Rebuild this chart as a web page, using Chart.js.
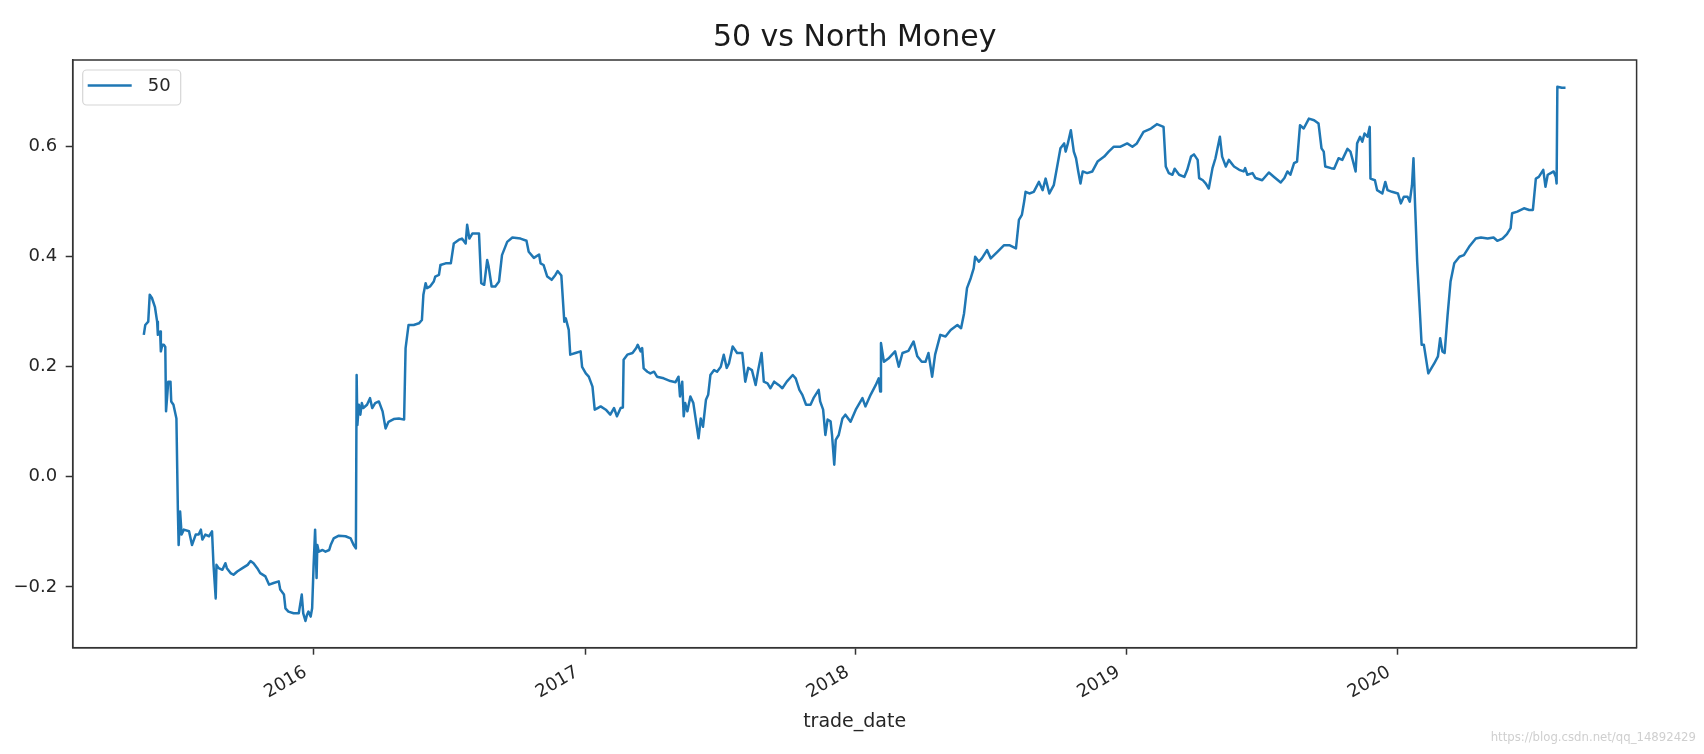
<!DOCTYPE html>
<html>
<head>
<meta charset="utf-8">
<script src="https://cdn.jsdelivr.net/npm/chart.js@4.4.1/dist/chart.umd.min.js"></script>
<style>
  html, body { margin: 0; padding: 0; background: #fff; }
  #wrap { width: 1704px; height: 754px; }
</style>
</head>
<body>
<div id="wrap"><canvas id="chart" width="1704" height="754"></canvas></div>
<script>
const chartTitle = "50 vs North Money";
const seriesLabel = "50";
const xLabel = "trade_date";
const watermark = "https://blog.csdn.net/qq_14892429";

// trade dates
const dates = [
  // 2015
  "2015-05-17","2015-05-19","2015-05-23","2015-05-25","2015-05-28","2015-06-01","2015-06-04","2015-06-05",
  "2015-06-08","2015-06-09","2015-06-11","2015-06-13","2015-06-15","2015-06-16","2015-06-19","2015-06-22",
  "2015-06-23","2015-06-26","2015-06-30","2015-07-02","2015-07-03","2015-07-05","2015-07-07","2015-07-10",
  "2015-07-17","2015-07-21","2015-07-26","2015-07-30","2015-08-02","2015-08-04","2015-08-08","2015-08-13",
  "2015-08-17","2015-08-19","2015-08-22","2015-08-23","2015-08-26","2015-08-31","2015-09-04","2015-09-06",
  "2015-09-11","2015-09-15","2015-09-20","2015-09-27","2015-10-04","2015-10-08","2015-10-12","2015-10-17",
  "2015-10-21","2015-10-28","2015-11-02","2015-11-08","2015-11-15","2015-11-17","2015-11-22","2015-11-24",
  "2015-11-28","2015-12-05","2015-12-12","2015-12-16","2015-12-18","2015-12-21","2015-12-23","2015-12-25",
  "2015-12-28","2015-12-30",
  // 2016
  "2016-01-01","2016-01-03","2016-01-05","2016-01-06","2016-01-08","2016-01-13","2016-01-17","2016-01-22",
  "2016-01-24","2016-01-28","2016-02-04","2016-02-13","2016-02-20","2016-02-24","2016-02-27","2016-02-28",
  "2016-02-29","2016-03-02","2016-03-04","2016-03-06","2016-03-08","2016-03-13","2016-03-17","2016-03-20",
  "2016-03-24","2016-03-29","2016-04-03","2016-04-07","2016-04-11","2016-04-18","2016-04-25","2016-05-02",
  "2016-05-04","2016-05-08","2016-05-15","2016-05-22","2016-05-26","2016-05-28","2016-05-31","2016-06-02",
  "2016-06-06","2016-06-11","2016-06-13","2016-06-18","2016-06-20","2016-06-27","2016-07-04","2016-07-08",
  "2016-07-15","2016-07-19","2016-07-24","2016-07-26","2016-07-29","2016-08-02","2016-08-11","2016-08-14",
  "2016-08-18","2016-08-22","2016-08-24","2016-08-28","2016-09-02","2016-09-07","2016-09-11","2016-09-18",
  "2016-09-25","2016-10-06","2016-10-14","2016-10-17","2016-10-24","2016-10-31","2016-11-02","2016-11-06",
  "2016-11-11","2016-11-17","2016-11-22","2016-11-25","2016-11-30","2016-12-04","2016-12-06","2016-12-10",
  "2016-12-12","2016-12-19","2016-12-26","2016-12-28",
  // 2017
  "2017-01-02","2017-01-06","2017-01-11","2017-01-14","2017-01-18","2017-01-22","2017-01-29","2017-02-04",
  "2017-02-09","2017-02-13","2017-02-18","2017-02-21","2017-02-22","2017-02-27","2017-03-06","2017-03-11",
  "2017-03-13","2017-03-17","2017-03-19","2017-03-21","2017-03-26","2017-03-30","2017-04-04","2017-04-08",
  "2017-04-17","2017-04-26","2017-05-03","2017-05-07","2017-05-09","2017-05-12","2017-05-14","2017-05-16",
  "2017-05-19","2017-05-23","2017-05-27","2017-06-03","2017-06-06","2017-06-09","2017-06-13","2017-06-16",
  "2017-06-19","2017-06-24","2017-06-28","2017-07-03","2017-07-07","2017-07-11","2017-07-14","2017-07-19",
  "2017-07-25","2017-08-01","2017-08-05","2017-08-09","2017-08-14","2017-08-19","2017-08-23","2017-08-27",
  "2017-08-30","2017-09-04","2017-09-08","2017-09-13","2017-09-19","2017-09-24","2017-09-30","2017-10-08",
  "2017-10-12","2017-10-17","2017-10-21","2017-10-26","2017-11-01","2017-11-05","2017-11-12","2017-11-14",
  "2017-11-18","2017-11-21","2017-11-24","2017-11-28","2017-11-30","2017-12-03","2017-12-05","2017-12-09",
  "2017-12-14","2017-12-18","2017-12-25",
  // 2018
  "2018-01-01","2018-01-10","2018-01-14","2018-01-21","2018-01-28","2018-02-01","2018-02-03","2018-02-04",
  "2018-02-08","2018-02-14","2018-02-23","2018-02-28","2018-03-05","2018-03-13","2018-03-20","2018-03-25",
  "2018-03-31","2018-04-05","2018-04-09","2018-04-14","2018-04-18","2018-04-25","2018-05-02","2018-05-09",
  "2018-05-18","2018-05-23","2018-05-27","2018-05-31","2018-06-05","2018-06-09","2018-06-11","2018-06-16",
  "2018-06-20","2018-06-27","2018-07-02","2018-07-11","2018-07-20","2018-07-27","2018-08-05","2018-08-09",
  "2018-08-13","2018-08-16","2018-08-18","2018-08-23","2018-08-29","2018-09-05","2018-09-10","2018-09-14",
  "2018-09-19","2018-09-25","2018-09-30","2018-10-04","2018-10-09","2018-10-11","2018-10-14","2018-10-18",
  "2018-10-22","2018-10-25","2018-10-28","2018-10-31","2018-11-03","2018-11-09","2018-11-16","2018-11-23",
  "2018-12-02","2018-12-08","2018-12-15","2018-12-24",
  // 2019
  "2019-01-02","2019-01-09","2019-01-15","2019-01-24","2019-02-03","2019-02-11","2019-02-20","2019-02-23",
  "2019-02-27","2019-03-04","2019-03-07","2019-03-13","2019-03-20","2019-03-24","2019-03-29","2019-04-02",
  "2019-04-07","2019-04-09","2019-04-14","2019-04-18","2019-04-22","2019-04-27","2019-05-01","2019-05-07",
  "2019-05-10","2019-05-15","2019-05-19","2019-05-26","2019-06-02","2019-06-08","2019-06-10","2019-06-13",
  "2019-06-20","2019-06-24","2019-07-03","2019-07-12","2019-07-19","2019-07-28","2019-08-02","2019-08-06",
  "2019-08-10","2019-08-15","2019-08-19","2019-08-23","2019-08-28","2019-09-04","2019-09-11","2019-09-17",
  "2019-09-21","2019-09-24","2019-09-26","2019-10-04","2019-10-08","2019-10-14","2019-10-19","2019-10-26",
  "2019-10-30","2019-11-02","2019-11-06","2019-11-08","2019-11-12","2019-11-15","2019-11-18","2019-11-22",
  "2019-11-25","2019-11-26","2019-12-02","2019-12-05","2019-12-12","2019-12-16","2019-12-19","2019-12-25",
  // 2020
  "2020-01-02","2020-01-06","2020-01-10","2020-01-15","2020-01-18","2020-01-21","2020-01-23","2020-01-25",
  "2020-01-28","2020-02-03","2020-02-06","2020-02-12","2020-02-20","2020-02-25","2020-02-28","2020-03-02",
  "2020-03-05","2020-03-09","2020-03-13","2020-03-18","2020-03-25","2020-03-31","2020-04-07","2020-04-16",
  "2020-04-23","2020-05-02","2020-05-10","2020-05-15","2020-05-22","2020-05-28","2020-06-02","2020-06-04",
  "2020-06-11","2020-06-20","2020-06-27","2020-07-02","2020-07-06","2020-07-10","2020-07-16","2020-07-19",
  "2020-07-22","2020-07-26","2020-07-30","2020-08-02","2020-08-03","2020-08-04","2020-08-10","2020-08-15"
];

// series "50", same order as dates
const values = [
  // 2015
  0.258, 0.276, 0.282, 0.331, 0.325, 0.309, 0.282, 0.258,
  0.264, 0.228, 0.240, 0.240, 0.236, 0.119, 0.173, 0.173,
  0.137, 0.131, 0.106, -0.063, -0.124, -0.063, -0.105, -0.096,
  -0.099, -0.124, -0.105, -0.105, -0.096, -0.114, -0.105, -0.108,
  -0.099, -0.160, -0.221, -0.160, -0.166, -0.169, -0.157, -0.166,
  -0.175, -0.178, -0.172, -0.166, -0.160, -0.153, -0.157, -0.166,
  -0.175, -0.181, -0.196, -0.193, -0.190, -0.205, -0.214, -0.239,
  -0.245, -0.248, -0.248, -0.214, -0.248, -0.262, -0.251, -0.245,
  -0.254, -0.239,
  // 2016
  -0.160, -0.096, -0.184, -0.124, -0.136, -0.133, -0.136, -0.133,
  -0.124, -0.112, -0.107, -0.108, -0.112, -0.124, -0.130, 0.185,
  0.094, 0.131, 0.113, 0.134, 0.125, 0.131, 0.143, 0.125,
  0.134, 0.137, 0.119, 0.088, 0.100, 0.105, 0.106, 0.104,
  0.234, 0.276, 0.276, 0.279, 0.285, 0.331, 0.352, 0.343,
  0.346, 0.355, 0.364, 0.367, 0.385, 0.388, 0.388, 0.424,
  0.431, 0.433, 0.424, 0.458, 0.433, 0.442, 0.442, 0.352,
  0.349, 0.394, 0.382, 0.346, 0.346, 0.355, 0.403, 0.427,
  0.435, 0.433, 0.429, 0.409, 0.398, 0.404, 0.388, 0.385,
  0.364, 0.358, 0.367, 0.374, 0.366, 0.282, 0.288, 0.267,
  0.222, 0.225, 0.228, 0.200,
  // 2017
  0.188, 0.182, 0.164, 0.122, 0.125, 0.128, 0.122, 0.113,
  0.125, 0.110, 0.125, 0.126, 0.213, 0.222, 0.225, 0.234,
  0.240, 0.228, 0.234, 0.197, 0.191, 0.188, 0.191, 0.182,
  0.179, 0.174, 0.172, 0.182, 0.146, 0.173, 0.110, 0.134,
  0.119, 0.146, 0.134, 0.070, 0.106, 0.091, 0.140, 0.149,
  0.185, 0.194, 0.191, 0.200, 0.222, 0.198, 0.206, 0.237,
  0.225, 0.225, 0.173, 0.198, 0.194, 0.167, 0.198, 0.225,
  0.173, 0.170, 0.161, 0.173, 0.167, 0.161, 0.173, 0.185,
  0.179, 0.158, 0.149, 0.131, 0.131, 0.143, 0.158, 0.137,
  0.122, 0.076, 0.104, 0.101, 0.076, 0.022, 0.067, 0.076,
  0.106, 0.113, 0.100,
  // 2018
  0.122, 0.143, 0.128, 0.149, 0.167, 0.179, 0.155, 0.243,
  0.209, 0.215, 0.228, 0.200, 0.225, 0.229, 0.246, 0.219,
  0.209, 0.209, 0.225, 0.182, 0.222, 0.258, 0.255, 0.267,
  0.276, 0.270, 0.297, 0.343, 0.361, 0.379, 0.400, 0.391,
  0.397, 0.412, 0.397, 0.409, 0.421, 0.421, 0.415, 0.467,
  0.476, 0.500, 0.518, 0.515, 0.518, 0.536, 0.521, 0.542,
  0.515, 0.530, 0.567, 0.597, 0.606, 0.591, 0.606, 0.630,
  0.591, 0.579, 0.555, 0.533, 0.555, 0.552, 0.555, 0.573,
  0.582, 0.591, 0.600, 0.600,
  // 2019
  0.606, 0.600, 0.606, 0.627, 0.633, 0.641, 0.636, 0.564,
  0.552, 0.549, 0.560, 0.549, 0.545, 0.558, 0.582, 0.586,
  0.576, 0.543, 0.539, 0.533, 0.524, 0.561, 0.579, 0.618,
  0.582, 0.564, 0.576, 0.564, 0.558, 0.555, 0.561, 0.549,
  0.552, 0.543, 0.539, 0.553, 0.545, 0.535, 0.543, 0.555,
  0.549, 0.570, 0.573, 0.639, 0.633, 0.651, 0.648, 0.642,
  0.597, 0.591, 0.564, 0.561, 0.560, 0.579, 0.576, 0.596,
  0.591, 0.576, 0.555, 0.606, 0.618, 0.609, 0.624, 0.618,
  0.636, 0.542, 0.539, 0.521, 0.515, 0.536, 0.521, 0.518,
  // 2020
  0.515, 0.497, 0.509, 0.509, 0.500, 0.530, 0.579, 0.500,
  0.391, 0.240, 0.240, 0.188, 0.206, 0.219, 0.252, 0.228,
  0.225, 0.294, 0.355, 0.388, 0.400, 0.403, 0.418, 0.433,
  0.435, 0.433, 0.435, 0.429, 0.433, 0.441, 0.452, 0.479,
  0.482, 0.488, 0.485, 0.485, 0.542, 0.545, 0.558, 0.527,
  0.549, 0.552, 0.555, 0.545, 0.533, 0.709, 0.707, 0.707
];

const yTickStep = 0.2;

const fontFamily = "DejaVu Sans";
const textColor = "#262626";
const axisColor = "#333333";
const lineColor = "#1f77b4";

const points = dates.map((d, i) => ({ x: Date.parse(d), y: values[i] }));

// matplotlib style 5% margins around the data
const xs = points.map(p => p.x);
const xLo = Math.min(...xs), xHi = Math.max(...xs);
const xPad = (xHi - xLo) * 0.05;
const yLo = Math.min(...values), yHi = Math.max(...values);
const yPad = (yHi - yLo) * 0.05;

// frame on all four sides, legend box, watermark
const extras = {
    id: "extras",
    afterDatasetsDraw(chart) {
        const { ctx, chartArea: a } = chart;
        const ds = chart.data.datasets[0];
        ctx.save();
        ctx.strokeStyle = axisColor;
        ctx.lineWidth = 1.5;
        ctx.strokeRect(a.left, a.top, a.right - a.left, a.bottom - a.top);

        const bx = a.left + 10, by = a.top + 10, bw = 98, bh = 35;
        ctx.beginPath();
        ctx.roundRect(bx, by, bw, bh, 4);
        ctx.fillStyle = "rgba(255,255,255,0.8)";
        ctx.fill();
        ctx.strokeStyle = "#d6d6d6";
        ctx.lineWidth = 1.2;
        ctx.stroke();

        ctx.beginPath();
        ctx.moveTo(bx + 5, by + 15.5);
        ctx.lineTo(bx + 49, by + 15.5);
        ctx.strokeStyle = ds.borderColor;
        ctx.lineWidth = ds.borderWidth;
        ctx.stroke();

        ctx.fillStyle = textColor;
        ctx.font = `18px "${fontFamily}"`;
        ctx.textBaseline = "middle";
        ctx.textAlign = "left";
        ctx.fillText(ds.label, bx + 65, by + 16.5);

        ctx.font = `13px "Liberation Sans Narrow", "DejaVu Sans Condensed", sans-serif`;
        ctx.fillStyle = "#cfcfcf";
        ctx.textAlign = "right";
        ctx.textBaseline = "alphabetic";
        ctx.fillText(watermark, chart.width - 8, chart.height - 13);
        ctx.restore();
    },
};

new Chart(document.getElementById("chart"), {
    type: "line",
    data: {
        datasets: [
            {
                label: seriesLabel,
                data: points,
                borderColor: lineColor,
                borderWidth: 2.5,
                borderJoinStyle: "round",
                pointRadius: 0,
                tension: 0,
                fill: false,
            },
        ],
    },
    options: {
        responsive: false,
        animation: false,
        devicePixelRatio: 1,
        events: [],
        layout: {
            padding: { left: 0, right: 1704 - 1636.6, top: 0, bottom: 0 },
        },
        plugins: {
            legend: { display: false },
            tooltip: { enabled: false },
            title: {
                display: true,
                fullSize: false, // centre over the plot area, not the canvas
                text: chartTitle,
                color: "#1a1a1a",
                font: { family: fontFamily, size: 30, weight: "normal", lineHeight: 1.2 },
                padding: { top: 20, bottom: 4 },
            },
        },
        scales: {
            x: {
                type: "linear",
                min: xLo - xPad,
                max: xHi + xPad,
                afterBuildTicks(scale) {
                    const ticks = [];
                    let yr = new Date(scale.min).getUTCFullYear() + 1;
                    for (; Date.UTC(yr, 0, 1) <= scale.max; yr++) {
                        ticks.push({ value: Date.UTC(yr, 0, 1) });
                    }
                    scale.ticks = ticks;
                },
                afterFit(scale) {
                    scale.height = 754 - 647.7;
                },
                ticks: {
                    minRotation: 30,
                    maxRotation: 30,
                    autoSkip: false,
                    padding: 7,
                    labelOffset: -8,
                    color: textColor,
                    font: { family: fontFamily, size: 18 },
                    callback: (v) => String(new Date(v).getUTCFullYear()),
                },
                grid: {
                    display: true,
                    drawOnChartArea: false,
                    drawTicks: true,
                    tickLength: 7,
                    tickWidth: 1.5,
                    tickColor: axisColor,
                },
                border: { display: true, color: axisColor, width: 1.5 },
                title: {
                    display: true,
                    text: xLabel,
                    color: textColor,
                    font: { family: fontFamily, size: 19, lineHeight: 1.2 },
                    padding: { top: 0, bottom: 21 },
                },
            },
            y: {
                type: "linear",
                min: yLo - yPad,
                max: yHi + yPad,
                afterBuildTicks(scale) {
                    const ticks = [];
                    for (let k = Math.ceil(scale.min / yTickStep - 1e-9); k * yTickStep <= scale.max; k++) {
                        ticks.push({ value: +(k * yTickStep).toFixed(10) });
                    }
                    scale.ticks = ticks;
                },
                afterFit(scale) {
                    scale.width = 72.7;
                },
                ticks: {
                    padding: 8.5,
                    color: textColor,
                    font: { family: fontFamily, size: 18 },
                    callback: (v) => v.toFixed(1).replace("-", "\u2212"),
                },
                grid: {
                    display: true,
                    drawOnChartArea: false,
                    drawTicks: true,
                    tickLength: 7,
                    tickWidth: 1.5,
                    tickColor: axisColor,
                },
                border: { display: true, color: axisColor, width: 1.5 },
            },
        },
    },
    plugins: [extras],
});
</script>
</body>
</html>
